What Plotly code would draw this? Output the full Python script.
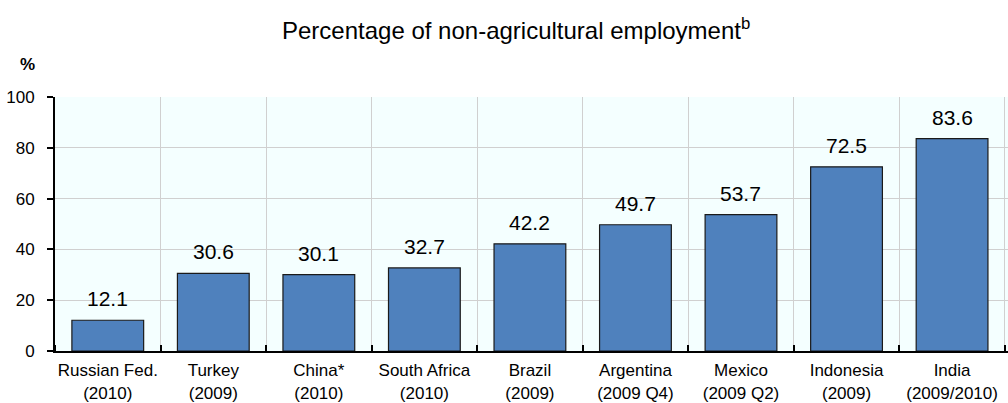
import plotly.graph_objects as go

countries = ["Russian Fed.", "Turkey", "China*", "South Africa", "Brazil",
             "Argentina", "Mexico", "Indonesia", "India"]
years = ["(2010)", "(2009)", "(2010)", "(2010)", "(2009)",
         "(2009 Q4)", "(2009 Q2)", "(2009)", "(2009/2010)"]
values = [12.1, 30.6, 30.1, 32.7, 42.2, 49.7, 53.7, 72.5, 83.6]
y_ticks = [0, 20, 40, 60, 80, 100]

labels = [f"{c}<br>{y}" for c, y in zip(countries, years)]
xs = list(range(len(values)))

FONT = "Liberation Sans, Arial, sans-serif"

fig = go.Figure(go.Bar(
    x=xs, y=values,
    width=0.68,
    marker=dict(color="#4F81BD", line=dict(color="#1A1A1A", width=1.2)),
    hoverinfo="skip",
))

# value labels floating above each bar
for x, v in zip(xs, values):
    fig.add_annotation(x=x, y=v, text=f"{v:.1f}", showarrow=False,
                       yanchor="bottom", yshift=8,
                       font=dict(family=FONT, size=21, color="#000"))

fig.add_annotation(xref="paper", yref="paper", x=0.484, y=1.0, yshift=68,
                   text="Percentage of non-agricultural employment<sup>b</sup>",
                   showarrow=False, xanchor="center", yanchor="middle",
                   font=dict(family=FONT, size=24, color="#000"))
fig.add_annotation(xref="paper", yref="paper", x=-0.029, y=1.0, yshift=33,
                   text="<b>%</b>", showarrow=False, xanchor="center",
                   yanchor="middle", font=dict(family=FONT, size=17, color="#000"))

fig.update_layout(
    width=1008, height=403,
    margin=dict(l=55, r=0, t=97, b=52),
    paper_bgcolor="white", plot_bgcolor="#F4FFFF",
    showlegend=False,
    font=dict(family=FONT, size=17, color="#000"),
)
fig.update_xaxes(
    range=[-0.5, 8.53], tickvals=xs, ticktext=labels,
    showgrid=False, ticks="", tickfont=dict(size=17),
    ticklabelstandoff=3,
    showline=True, linecolor="#000", linewidth=2,
    minor=dict(tick0=0.5, dtick=1, showgrid=True, gridcolor="#D0D0D0",
               gridwidth=1, ticks="inside", ticklen=6, tickcolor="#000",
               tickwidth=1.5),
    zeroline=False, fixedrange=True,
)
fig.update_yaxes(
    range=[0, 100], tickvals=y_ticks,
    showgrid=True, gridcolor="#D0D0D0", gridwidth=1,
    ticks="outside", ticklen=6, tickcolor="#000", tickwidth=1.5,
    ticklabelstandoff=9,
    showline=True, linecolor="#000", linewidth=2,
    tickfont=dict(size=17), zeroline=False, fixedrange=True,
)

fig.write_html("out.html")
